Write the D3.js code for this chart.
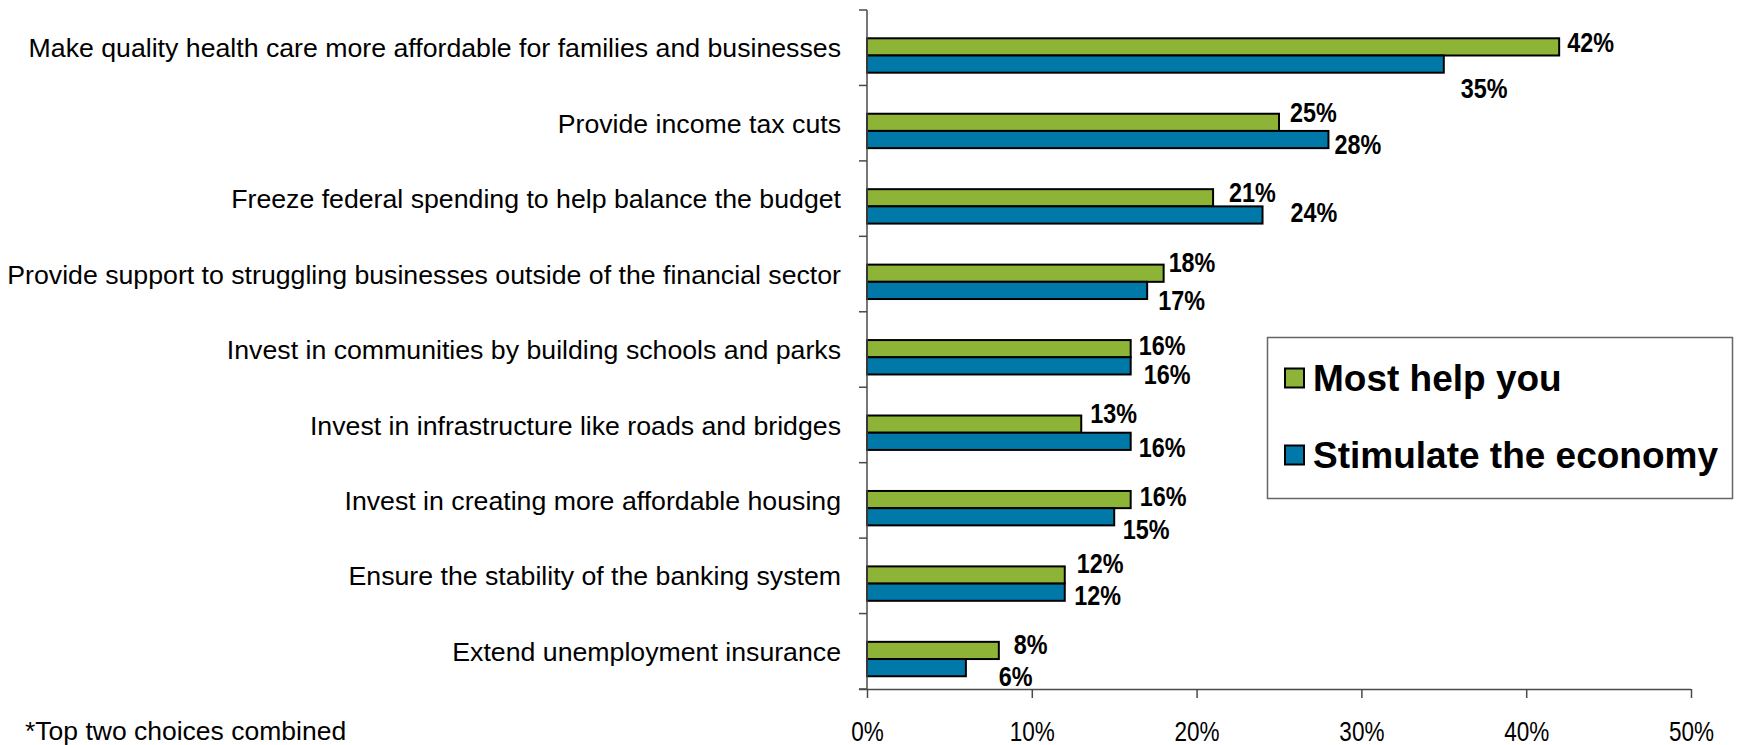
<!DOCTYPE html>
<html>
<head>
<meta charset="utf-8">
<script src="https://cdn.jsdelivr.net/npm/d3@7"></script>
<style>
  html, body { margin: 0; padding: 0; background: #fff; }
  svg { display: block; }
</style>
</head>
<body>
<svg id="chart" width="1746" height="745"></svg>
<script>
// Survey options (top to bottom)
const categories = [
  "Make quality health care more affordable for families and businesses",
  "Provide income tax cuts",
  "Freeze federal spending to help balance the budget",
  "Provide support to struggling businesses outside of the financial sector",
  "Invest in communities by building schools and parks",
  "Invest in infrastructure like roads and bridges",
  "Invest in creating more affordable housing",
  "Ensure the stability of the banking system",
  "Extend unemployment insurance"
];
const seriesNames = ["Most help you", "Stimulate the economy"];
const mostHelpYou = [42, 25, 21, 18, 16, 13, 16, 12, 8];
const stimulateEconomy = [35, 28, 24, 17, 16, 16, 15, 12, 6];
const xTicks = [0, 10, 20, 30, 40, 50];
const footnote = "*Top two choices combined";

// Hand-placed label nudges [dx, dy] relative to each bar's end / centre
const nudgeGreen = [[8,-5],[11,-10.5],[16,-6],[5,-11],[8,-4],[9,-11],[9,-4],[12,-12.5],[15,-6.5]];
const nudgeBlue  = [[17,23.5],[6,4],[28,-3],[11,9.5],[13,8.3],[8,5],[8.5,12],[9.5,3],[33,8]];

const colors = ["#8db436", "#0079a9"];

// Pick a condensed face if present, otherwise squeeze the regular one
const narrowFamily = (() => {
  const c = document.createElement("canvas").getContext("2d");
  c.font = "40px monospace";
  const base = c.measureText("0123456789%").width;
  c.font = "40px 'Liberation Sans Narrow', monospace";
  const w = c.measureText("0123456789%").width;
  return Math.abs(w - base) > 0.5 ? "'Liberation Sans Narrow'" : null;
})();
function narrowText(sel, weight) {
  if (narrowFamily) {
    sel.style("font-family", narrowFamily).style("font-weight", weight);
  } else {
    sel.style("font-family", "'Liberation Sans', Arial, sans-serif")
       .style("font-weight", weight)
       .attr("transform", function() {
         const x = +d3.select(this).attr("x"), y = +d3.select(this).attr("y");
         return `translate(${x},${y}) scale(0.82,1) translate(${-x},${-y})`;
       });
  }
}

const svg = d3.select("#chart");

const x = d3.scaleLinear().domain([0, 50]).range([867, 1691]);
const y = d3.scaleBand().domain(categories).range([10, 689]).padding(0);
const bw = y.bandwidth();
const barOff = bw * 0.375;
const barH = bw * 0.228;

const axisColor = "#4a4a4a";

// Bars
const series = [mostHelpYou, stimulateEconomy];
series.forEach((vals, s) => {
  svg.append("g")
    .selectAll("rect")
    .data(vals)
    .join("rect")
      .attr("x", x(0))
      .attr("y", (d, i) => y(categories[i]) + barOff + s * barH)
      .attr("width", d => x(d) - x(0))
      .attr("height", barH)
      .attr("fill", colors[s])
      .attr("stroke", "#000")
      .attr("stroke-width", 2);
});

// Y axis: line with ticks at band edges
const yAxis = svg.append("g").attr("stroke", axisColor).attr("stroke-width", 1.5);
yAxis.append("line").attr("x1", x(0)).attr("x2", x(0)).attr("y1", 10).attr("y2", 689);
const edges = categories.map(c => y(c)).concat([y(categories[categories.length - 1]) + bw]);
yAxis.selectAll("line.tick").data(edges).join("line")
  .attr("class", "tick")
  .attr("x1", x(0) - 8).attr("x2", x(0))
  .attr("y1", d => d).attr("y2", d => d);

// X axis
const xAxisG = svg.append("g").attr("transform", "translate(0,689)")
  .call(d3.axisBottom(x).tickValues(xTicks).tickSize(9).tickPadding(0).tickFormat(d => d + "%"));
xAxisG.select(".domain").attr("stroke", axisColor).attr("stroke-width", 1.5)
  .attr("d", `M${x(0) - 8},0.5H${x(50)}`);
xAxisG.selectAll(".tick line").attr("stroke", axisColor).attr("stroke-width", 1.5);
xAxisG.selectAll(".tick text")
  .attr("y", 52).attr("dy", null)
  .attr("x", 0)
  .style("font-size", "27.5px")
  .attr("fill", "#000")
  .each(function() { narrowText(d3.select(this), "normal"); });

// Category labels
svg.append("g").selectAll("text").data(categories).join("text")
  .attr("x", 841)
  .attr("y", d => y(d) + bw / 2)
  .attr("dy", "0.36em")
  .attr("text-anchor", "end")
  .style("font-family", "'Liberation Sans', Arial, sans-serif")
  .style("font-size", "26.7px")
  .attr("fill", "#000")
  .text(d => d);

// Value labels
[[mostHelpYou, nudgeGreen], [stimulateEconomy, nudgeBlue]].forEach(([vals, nudge], s) => {
  svg.append("g").selectAll("text").data(vals).join("text")
    .attr("x", (d, i) => x(d) + nudge[i][0])
    .attr("y", (d, i) => y(categories[i]) + barOff + s * barH + barH / 2 + nudge[i][1])
    .attr("dy", "0.36em")
    .style("font-size", "28.5px")
    .attr("fill", "#000")
    .text(d => d + "%")
    .each(function() { narrowText(d3.select(this), "bold"); });
});

// Legend
const lg = svg.append("g");
lg.append("rect")
  .attr("x", 1267.5).attr("y", 337.5).attr("width", 465).attr("height", 161)
  .attr("fill", "#fff").attr("stroke", "#666").attr("stroke-width", 1.5);
const legendRows = [378, 455];
seriesNames.forEach((name, s) => {
  lg.append("rect")
    .attr("x", 1285).attr("y", legendRows[s] - 9.5).attr("width", 19).attr("height", 19)
    .attr("fill", colors[s]).attr("stroke", "#000").attr("stroke-width", 2);
  lg.append("text")
    .attr("x", 1313).attr("y", legendRows[s])
    .attr("dy", "0.36em")
    .style("font-family", "'Liberation Sans', Arial, sans-serif")
    .style("font-weight", "bold")
    .style("font-size", "37px")
    .attr("fill", "#000")
    .text(name);
});

// Footnote
svg.append("text")
  .attr("x", 25).attr("y", 740)
  .style("font-family", "'Liberation Sans', Arial, sans-serif")
  .style("font-size", "26.5px")
  .attr("fill", "#000")
  .text(footnote);
</script>
</body>
</html>
